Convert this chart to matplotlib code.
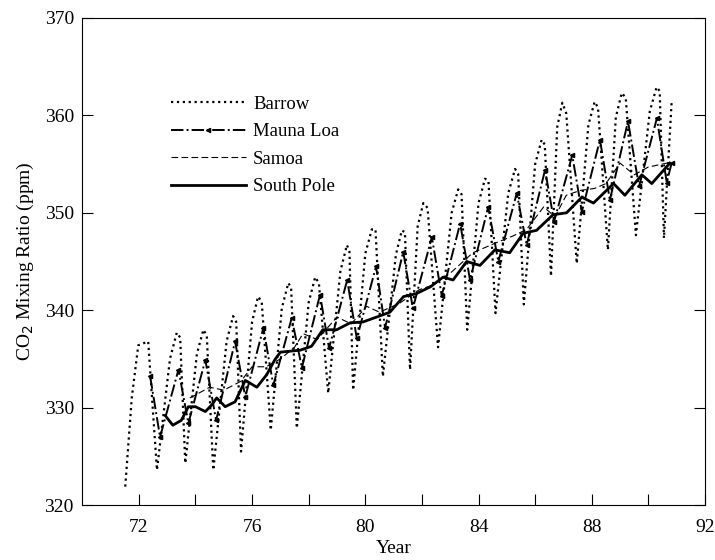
import matplotlib
matplotlib.use("Agg")
from matplotlib import pyplot as plt

plt.rcParams['font.family'] = ['Liberation Serif', 'DejaVu Serif']

# Barrow (year, ppm) - peaks, shoulders and troughs
barrow_x = [71.52, 71.75, 71.98, 72.33, 72.64,
            73.10, 73.34, 73.46, 73.64,
            74.05, 74.28, 74.40, 74.63,
            75.10, 75.33, 75.44, 75.61,
            76.00, 76.21, 76.34, 76.66,
            77.05, 77.28, 77.38, 77.58,
            78.00, 78.23, 78.36, 78.69,
            79.12, 79.35, 79.44, 79.57,
            80.00, 80.23, 80.36, 80.62,
            81.08, 81.29, 81.40, 81.58,
            81.85, 82.05, 82.20, 82.57,
            83.05, 83.28, 83.40, 83.60,
            84.00, 84.23, 84.35, 84.60,
            85.05, 85.29, 85.40, 85.60,
            86.00, 86.23, 86.34, 86.56,
            86.78, 86.96, 87.10, 87.47,
            87.88, 88.10, 88.22, 88.57,
            88.85, 89.06, 89.20, 89.56,
            90.05, 90.29, 90.40, 90.55,
            90.82]
barrow_y = [321.9, 331.0, 336.4, 336.8, 323.6,
            335.0, 337.7, 337.2, 324.3,
            335.5, 338.0, 337.4, 323.6,
            336.8, 339.4, 338.8, 325.5,
            338.8, 341.4, 340.9, 327.7,
            340.2, 342.8, 342.3, 327.9,
            340.8, 343.4, 342.8, 331.5,
            344.0, 346.7, 346.0, 331.8,
            345.8, 348.3, 348.3, 333.2,
            345.7, 348.2, 348.0, 333.9,
            348.6, 351.0, 350.5, 336.2,
            350.0, 352.4, 351.9, 338.0,
            351.0, 353.5, 353.3, 339.7,
            352.0, 354.5, 354.0, 340.6,
            355.0, 357.5, 357.0, 343.5,
            358.8, 361.3, 360.2, 344.8,
            359.0, 361.4, 360.8, 346.2,
            359.8, 362.3, 361.8, 347.7,
            360.4, 362.9, 362.5, 347.4,
            361.3]

# Mauna Loa
mlo_x = [72.40, 72.75, 73.40, 73.75, 74.35, 74.73, 75.40, 75.76, 76.40, 76.75,
         77.40, 77.76, 78.40, 78.72, 79.36, 79.70, 80.38, 80.70, 81.34, 81.68,
         82.35, 82.70, 83.35, 83.70, 84.34, 84.70, 85.35, 85.70, 86.35, 86.67,
         87.31, 87.65, 88.29, 88.64, 89.28, 89.67, 90.30, 90.65, 90.82]
mlo_y = [333.2, 327.0, 333.9, 328.4, 334.9, 328.7, 336.8, 331.1, 338.2, 332.3,
         339.2, 334.1, 341.6, 336.1, 343.1, 337.1, 344.5, 338.2, 346.0, 340.2,
         347.5, 341.5, 348.9, 343.1, 350.6, 345.0, 352.0, 346.7, 354.4, 349.1,
         355.9, 350.1, 357.5, 351.3, 359.4, 352.7, 359.7, 353.1, 355.1]

# Samoa
samoa_x = [73.8, 74.0, 74.5, 75.0, 75.6, 76.0, 76.5, 77.0, 77.5, 77.8, 78.3,
           79.0, 79.5, 80.05, 80.5, 81.2, 81.9, 82.4, 83.0, 83.8, 84.6, 85.2,
           85.7, 86.3, 86.7, 87.1, 87.6, 88.1, 88.5, 89.0, 89.5, 90.0, 90.5, 90.8]
samoa_y = [331.0, 331.3, 332.1, 331.8, 332.7, 334.2, 334.2, 335.0, 336.2, 337.6,
           337.0, 339.3, 338.6, 340.4, 339.8, 340.7, 342.1, 342.6, 343.8, 345.9,
           346.9, 347.6, 348.3, 350.6, 349.6, 351.8, 352.3, 352.5, 353.0, 355.1,
           353.9, 354.7, 355.0, 355.2]

# South Pole
spo_x = [72.93, 73.2, 73.5, 73.75, 74.0, 74.35, 74.58, 74.75, 75.05, 75.4, 75.76,
         76.17, 76.52, 76.8, 77.0, 77.7, 78.1, 78.5, 78.99, 79.46, 79.92, 80.4,
         80.87, 81.35, 81.8, 82.3, 82.75, 83.1, 83.58, 84.05, 84.58, 85.1, 85.58,
         86.05, 86.63, 87.11, 87.65, 88.06, 88.77, 89.17, 89.77, 90.12, 90.76]
spo_y = [329.2, 328.2, 328.7, 330.1, 330.1, 329.6, 330.3, 331.0, 330.1, 330.6, 332.8,
         332.1, 333.4, 334.9, 335.7, 335.9, 336.3, 338.0, 338.0, 338.7, 338.8, 339.3,
         339.8, 341.4, 341.7, 342.4, 343.4, 343.1, 345.0, 344.6, 346.2, 345.9, 347.9,
         348.2, 349.8, 350.0, 351.6, 351.0, 353.0, 351.8, 353.9, 353.0, 355.1]

fig = plt.figure(figsize=(7.15, 5.6), dpi=100)
ax = fig.add_axes([0.115, 0.098, 0.871, 0.87])

ax.plot(barrow_x, barrow_y, color='black', linestyle=':', linewidth=1.6, label='Barrow')
ax.plot(mlo_x, mlo_y, color='black', linestyle='-.', linewidth=1.4,
        marker='<', markersize=3, label='Mauna Loa')
ax.plot(samoa_x, samoa_y, color='black', linestyle='--', linewidth=0.8,
        dashes=(6, 3), label='Samoa')
ax.plot(spo_x, spo_y, color='black', linestyle='-', linewidth=2.0, label='South Pole')

ax.set_xlim(70, 92)
ax.set_ylim(320, 370)
ax.set_xticks([72, 76, 80, 84, 88, 92])
ax.set_xticks([74, 78, 82, 86, 90], minor=True)
ax.set_yticks([320, 330, 340, 350, 360, 370])
ax.tick_params(axis='both', which='both', direction='in', length=8, width=0.8,
               labelsize=14)
ax.tick_params(axis='y', right=True, pad=6)
ax.tick_params(axis='x', pad=10)

ax.set_xlabel('Year', fontsize=14, labelpad=3)
ax.set_ylabel('CO$_2$ Mixing Ratio (ppm)', fontsize=14, labelpad=6)

ax.legend(loc='upper left', bbox_to_anchor=(0.115, 0.875), frameon=False,
          fontsize=13.5, handlelength=4, labelspacing=0.55, handletextpad=0.4)

fig.savefig('out.png', dpi=100)
